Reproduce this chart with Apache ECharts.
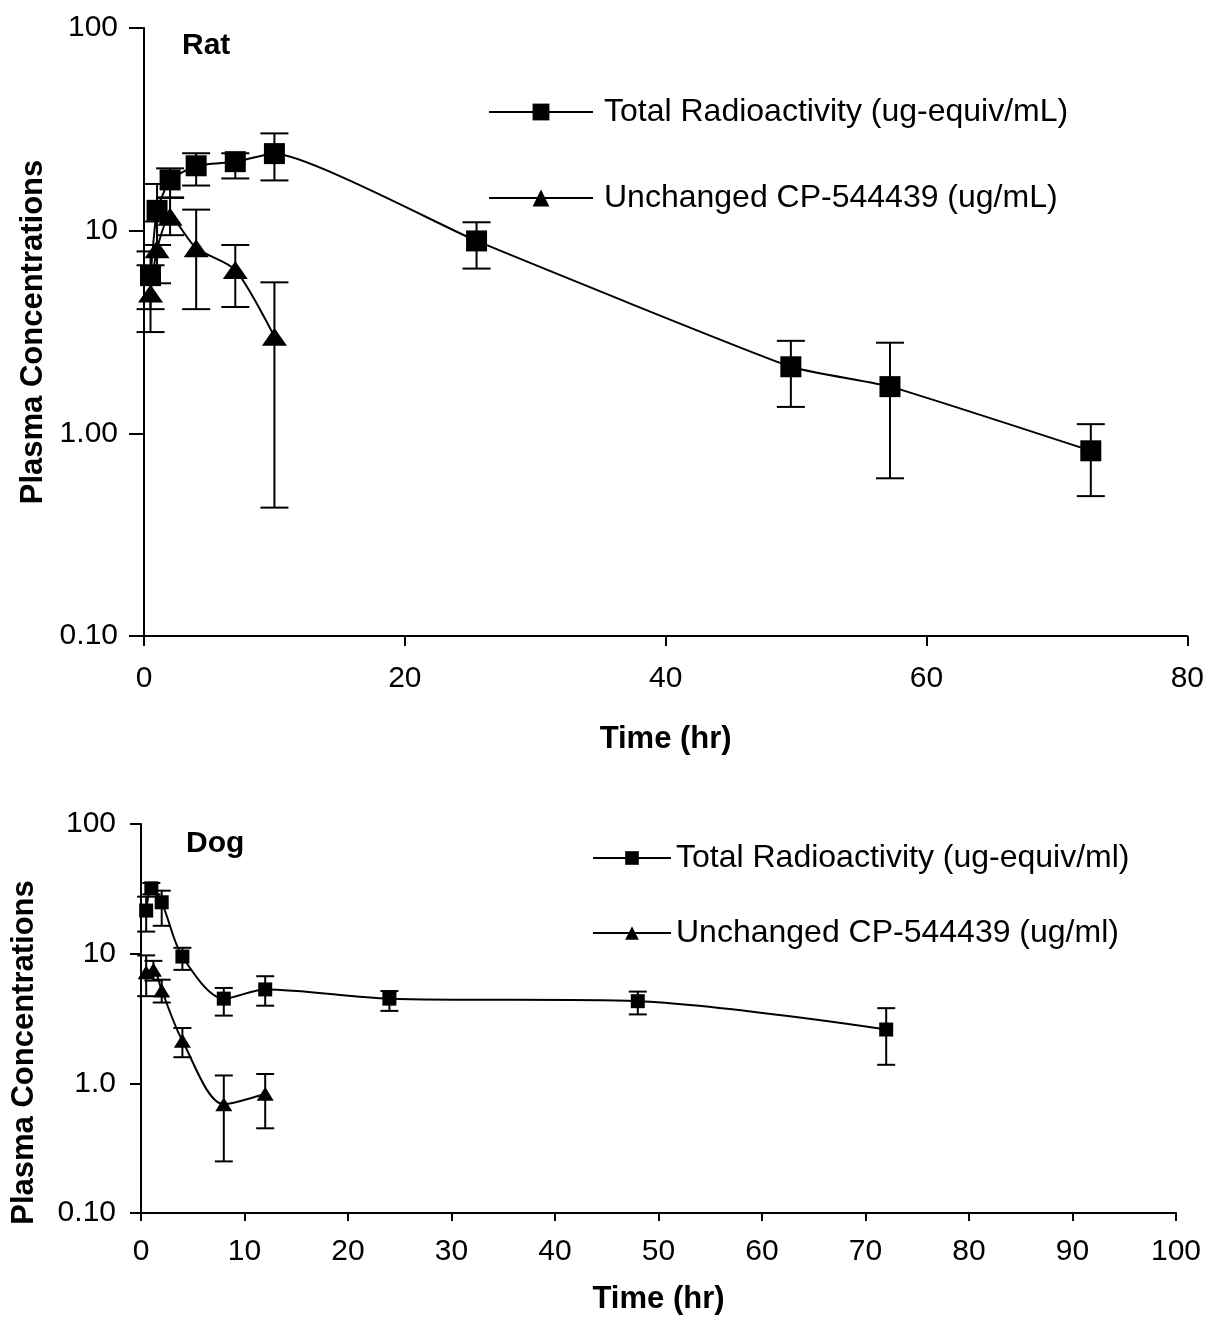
<!DOCTYPE html>
<html>
<head>
<meta charset="utf-8">
<title>Plasma concentrations - rat and dog</title>
<script src="https://cdn.jsdelivr.net/npm/echarts@6/dist/echarts.min.js"></script>
<style>
  html, body { margin: 0; padding: 0; background: #fff; }
  #main { width: 1207px; height: 1322px; }
</style>
</head>
<body>
<div id="main"></div>
<script>
// ---- Rat ----
var ratTotalName = "Total Radioactivity (ug-equiv/mL)";
var ratUnchName = "Unchanged CP-544439 (ug/mL)";
var ratTotalTime = [0.5, 1, 2, 4, 7, 10, 25.5, 49.6, 57.2, 72.6];
var ratTotal     = [6.0, 12.6, 17.8, 20.9, 21.9, 24.0, 8.9, 2.13, 1.70, 0.82];
var ratTotalLow  = [4.1, 8.5, 14.5, 16.7, 18.1, 17.7, 6.5, 1.35, 0.60, 0.49];
var ratTotalHigh = [7.9, 17.0, 20.3, 24.1, 24.1, 30.2, 11.0, 2.86, 2.80, 1.11];
var ratUnchTime  = [0.5, 1, 2, 4, 7, 10];
var ratUnch      = [4.9, 8.1, 11.7, 8.2, 6.4, 3.0];
var ratUnchLow   = [3.16, 5.5, 9.5, 4.1, 4.2, 0.43];
var ratUnchHigh  = [6.75, 11.1, 14.6, 12.7, 8.5, 5.56];
var ratYTicks  = [0.1, 1, 10, 100];
var ratYLabels = ["0.10", "1.00", "10", "100"];

// ---- Dog ----
var dogTotalName = "Total Radioactivity (ug-equiv/ml)";
var dogUnchName = "Unchanged CP-544439 (ug/ml)";
var dogTotalTime = [0.5, 1, 2, 4, 8, 12, 24, 48, 72];
var dogTotal     = [21.5, 31.9, 24.9, 9.5, 4.5, 5.3, 4.5, 4.3, 2.6];
var dogTotalLow  = [14.8, 28.7, 16.4, 7.5, 3.33, 3.97, 3.62, 3.4, 1.39];
var dogTotalHigh = [27.5, 35.1, 30.6, 11.1, 5.44, 6.7, 5.15, 5.1, 3.8];
var dogUnchTime  = [0.5, 1.2, 2, 4, 8, 12];
var dogUnch      = [7.2, 7.5, 5.2, 2.13, 0.69, 0.83];
var dogUnchLow   = [4.7, 6.2, 4.2, 1.59, 0.25, 0.45];
var dogUnchHigh  = [9.7, 8.8, 6.3, 2.67, 1.15, 1.18];
var dogYTicks  = [0.1, 1, 10, 100];
var dogYLabels = ["0.10", "1.0", "10", "100"];

var FONT = "Liberation Sans, Arial, sans-serif";

function pairs(xs, ys) {
  return xs.map(function (x, i) { return [x, ys[i]]; });
}
function triples(xs, lo, hi) {
  return xs.map(function (x, i) { return [x, lo[i], hi[i]]; });
}
function logLabel(ticks, labels) {
  return function (v) {
    for (var i = 0; i < ticks.length; i++) {
      if (Math.abs(Math.log10(ticks[i]) - Math.log10(v)) < 1e-6) return labels[i];
    }
    return "";
  };
}
// error bars with caps
function errorBars(capHalf) {
  return function (params, api) {
    var x = api.value(0);
    var lo = api.coord([x, api.value(1)]);
    var hi = api.coord([x, api.value(2)]);
    var st = { stroke: "#000", lineWidth: 2 };
    return {
      type: "group",
      children: [
        { type: "line", shape: { x1: hi[0], y1: hi[1], x2: lo[0], y2: lo[1] }, style: st },
        { type: "line", shape: { x1: hi[0] - capHalf, y1: hi[1], x2: hi[0] + capHalf, y2: hi[1] }, style: st },
        { type: "line", shape: { x1: lo[0] - capHalf, y1: lo[1], x2: lo[0] + capHalf, y2: lo[1] }, style: st }
      ]
    };
  };
}

function lineSeries(name, data, idx, symbol, size, smooth) {
  return {
    name: name,
    type: "line",
    xAxisIndex: idx,
    yAxisIndex: idx,
    data: data,
    smooth: smooth,
    symbol: symbol,
    symbolSize: size,
    showAllSymbol: true,
    color: "#000",
    itemStyle: { color: "#000" },
    lineStyle: { color: "#000", width: 2 },
    z: 3,
    animation: false
  };
}
function errSeries(data, idx, capHalf) {
  return {
    type: "custom",
    xAxisIndex: idx,
    yAxisIndex: idx,
    data: data,
    encode: { x: 0, y: [1, 2] },
    renderItem: errorBars(capHalf),
    z: 2,
    silent: true,
    animation: false
  };
}

var axisLine = { lineStyle: { color: "#000", width: 2 } };
var tickLabel = { color: "#000", fontSize: 30, fontFamily: FONT };
var nameStyle = { color: "#000", fontSize: 31, fontWeight: "bold", fontFamily: FONT };

var option = {
  backgroundColor: "#fff",
  animation: false,
  title: [
    { text: "Rat", left: 182, top: 31, padding: 0,
      textStyle: { fontSize: 30, fontWeight: "bold", color: "#000", fontFamily: FONT } },
    { text: "Dog", left: 186, top: 829, padding: 0,
      textStyle: { fontSize: 30, fontWeight: "bold", color: "#000", fontFamily: FONT } }
  ],
  legend: [
    {
      data: [ratTotalName, ratUnchName],
      orient: "vertical",
      left: 488, top: 96,
      itemWidth: 104, itemHeight: 21, itemGap: 54,
      padding: 0,
      textStyle: { fontSize: 32, color: "#000", fontFamily: FONT, lineHeight: 32, padding: [0, 0, 0, 6] }
    },
    {
      data: [dogTotalName, dogUnchName],
      orient: "vertical",
      left: 592, top: 842,
      itemWidth: 78, itemHeight: 17, itemGap: 43,
      padding: 0,
      textStyle: { fontSize: 32, color: "#000", fontFamily: FONT, lineHeight: 32, padding: [0, 0, 0, 0] }
    }
  ],
  grid: [
    { left: 144, top: 28, width: 1045, height: 608 },
    { left: 141, top: 824, width: 1035, height: 389 }
  ],
  xAxis: [
    {
      gridIndex: 0, type: "value", min: 0, max: 80, interval: 20,
      name: "Time (hr)", nameLocation: "middle", nameGap: 88, nameTextStyle: nameStyle,
      axisLine: axisLine, axisTick: { show: true, inside: false, length: 10, lineStyle: { color: "#000", width: 2 } },
      axisLabel: Object.assign({ margin: 28 }, tickLabel),
      splitLine: { show: false }
    },
    {
      gridIndex: 1, type: "value", min: 0, max: 100, interval: 10,
      name: "Time (hr)", nameLocation: "middle", nameGap: 71, nameTextStyle: nameStyle,
      axisLine: axisLine, axisTick: { show: true, inside: false, length: 8, lineStyle: { color: "#000", width: 2 } },
      axisLabel: Object.assign({ margin: 24 }, tickLabel),
      splitLine: { show: false }
    }
  ],
  yAxis: [
    {
      gridIndex: 0, type: "log", logBase: 10, min: 0.1, max: 100,
      name: "Plasma Concentrations", nameLocation: "middle", nameRotate: 90, nameGap: 94,
      nameTextStyle: nameStyle,
      axisLine: axisLine, axisTick: { show: true, inside: false, length: 15, lineStyle: { color: "#000", width: 2 } },
      axisLabel: Object.assign({ margin: 26, formatter: logLabel(ratYTicks, ratYLabels) }, tickLabel),
      minorTick: { show: false },
      splitLine: { show: false }
    },
    {
      gridIndex: 1, type: "log", logBase: 10, min: 0.1, max: 100,
      name: "Plasma Concentrations", nameLocation: "middle", nameRotate: 90, nameGap: 101,
      nameTextStyle: Object.assign({ padding: [0, 68, 0, 0] }, nameStyle),
      axisLine: axisLine, axisTick: { show: true, inside: false, length: 11, lineStyle: { color: "#000", width: 2 } },
      axisLabel: Object.assign({ margin: 25, formatter: logLabel(dogYTicks, dogYLabels) }, tickLabel),
      minorTick: { show: false },
      splitLine: { show: false }
    }
  ],
  series: [
    errSeries(triples(ratTotalTime, ratTotalLow, ratTotalHigh), 0, 14),
    errSeries(triples(ratUnchTime, ratUnchLow, ratUnchHigh), 0, 14),
    lineSeries(ratTotalName, pairs(ratTotalTime, ratTotal), 0, "rect", 21, 0.15),
    lineSeries(ratUnchName, pairs(ratUnchTime, ratUnch), 0, "triangle", [25, 18], 0.25),
    errSeries(triples(dogTotalTime, dogTotalLow, dogTotalHigh), 1, 9),
    errSeries(triples(dogUnchTime, dogUnchLow, dogUnchHigh), 1, 9),
    lineSeries(dogTotalName, pairs(dogTotalTime, dogTotal), 1, "rect", 14, 0.3),
    lineSeries(dogUnchName, pairs(dogUnchTime, dogUnch), 1, "triangle", [17, 14], 0.3)
  ]
};

var myChart = echarts.init(document.getElementById("main"), null, { renderer: "canvas" });
myChart.setOption(option);
</script>
</body>
</html>
